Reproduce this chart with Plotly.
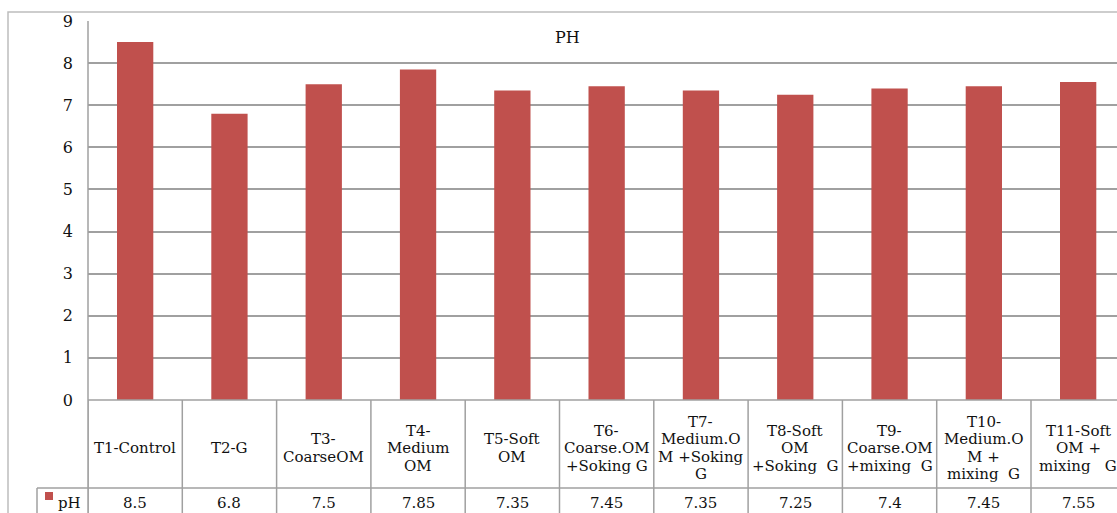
import plotly.graph_objects as go

# Treatments and measured pH
categories = ["T1", "T2", "T3", "T4", "T5", "T6", "T7", "T8", "T9", "T10", "T11"]
header_lines = [
    ["T1-Control"],
    ["T2-G"],
    ["T3-", "CoarseOM"],
    ["T4-", "Medium", "OM"],
    ["T5-Soft", "OM"],
    ["T6-", "Coarse.OM", "+Soking G"],
    ["T7-", "Medium.O", "M +Soking", "G"],
    ["T8-Soft", "OM", "+Soking\u00a0\u00a0G"],
    ["T9-", "Coarse.OM", "+mixing\u00a0\u00a0G"],
    ["T10-", "Medium.O", "M +", "mixing\u00a0\u00a0G"],
    ["T11-Soft", "OM +", "mixing\u00a0\u00a0\u00a0G"],
]
ph_values = [8.5, 6.8, 7.5, 7.85, 7.35, 7.45, 7.35, 7.25, 7.4, 7.45, 7.55]
series_name = "pH"
title_text = "PH"
y_ticks = list(range(0, 10))

W, H = 1117, 513
L, T, B = 88, 21, 113
plot_w = W - L
plot_h = H - T - B
BAR = "#C0504D"
GRID = "#a0a0a0"
FONT = "DejaVu Serif"


def px_x(px):
    return (px - L) / plot_w


def px_y(py):
    return (H - B - py) / plot_h


fig = go.Figure()
fig.add_trace(go.Bar(
    x=list(range(len(categories))), y=ph_values, name=series_name,
    marker=dict(color=BAR, line=dict(width=0)), width=0.385,
))

shapes = []
annotations = []

# outer chart frame
shapes.append(dict(type="rect", xref="paper", yref="paper",
                   x0=px_x(8), x1=px_x(W + 20), y0=px_y(H + 20), y1=px_y(12),
                   line=dict(color="#bdbdbd", width=1.5), layer="below"))

# data table grid
shapes.append(dict(type="line", xref="paper", yref="paper",
                   x0=0, x1=0, y0=px_y(H + 5), y1=1,
                   line=dict(color=GRID, width=1.5)))
for i in range(len(categories) + 1):
    shapes.append(dict(type="line", xref="x", yref="paper",
                       x0=i - 0.5, x1=i - 0.5, y0=px_y(H + 5), y1=0,
                       line=dict(color=GRID, width=1.5)))
shapes.append(dict(type="line", xref="paper", yref="paper",
                   x0=0, x1=1.01, y0=0, y1=0,
                   line=dict(color=GRID, width=1.5)))
shapes.append(dict(type="line", xref="paper", yref="paper",
                   x0=px_x(37), x1=1.01, y0=px_y(488), y1=px_y(488),
                   line=dict(color=GRID, width=1.5)))
shapes.append(dict(type="line", xref="paper", yref="paper",
                   x0=px_x(37), x1=px_x(37), y0=px_y(H + 5), y1=px_y(488),
                   line=dict(color=GRID, width=1.5)))
# legend key in the table row
shapes.append(dict(type="rect", xref="paper", yref="paper",
                   x0=px_x(45), x1=px_x(53), y0=px_y(500), y1=px_y(492),
                   fillcolor=BAR, line=dict(width=0)))

tfont = dict(family=FONT, size=15, color="#111111")
line_gap = 17.5
mid = 448
for i, lines in enumerate(header_lines):
    n = len(lines)
    for k, s in enumerate(lines):
        yc = mid + (k - (n - 1) / 2) * line_gap
        annotations.append(dict(x=i, y=px_y(yc), xref="x", yref="paper",
                                text=s, showarrow=False, font=tfont,
                                xanchor="center", yanchor="middle"))
    annotations.append(dict(x=i, y=px_y(503), xref="x", yref="paper",
                            text=f"{ph_values[i]:g}", showarrow=False, font=tfont,
                            xanchor="center", yanchor="middle"))

annotations.append(dict(x=px_x(56), y=px_y(503), xref="paper", yref="paper",
                        text=series_name, showarrow=False, font=tfont,
                        xanchor="left", yanchor="middle"))

annotations.append(dict(x=px_x(567), y=px_y(38), xref="paper", yref="paper",
                        text=title_text, showarrow=False,
                        font=dict(family=FONT, size=16, color="#111111"),
                        xanchor="center", yanchor="middle"))

fig.update_layout(
    width=W, height=H,
    margin=dict(l=L, r=0, t=T, b=B),
    paper_bgcolor="white", plot_bgcolor="white",
    showlegend=False,
    shapes=shapes, annotations=annotations,
    bargap=0.6,
)
fig.update_xaxes(range=[-0.5, -0.5 + plot_w / 94.3], showticklabels=False,
                 showgrid=False, zeroline=False, showline=False, ticks="")
fig.update_yaxes(range=[0, 9], tickvals=y_ticks, showgrid=True, gridcolor=GRID,
                 gridwidth=1.5, zeroline=False, showline=False, ticks="",
                 ticklabelstandoff=14,
                 tickfont=dict(family=FONT, size=16, color="#111111"))

fig.write_html("out.html")
